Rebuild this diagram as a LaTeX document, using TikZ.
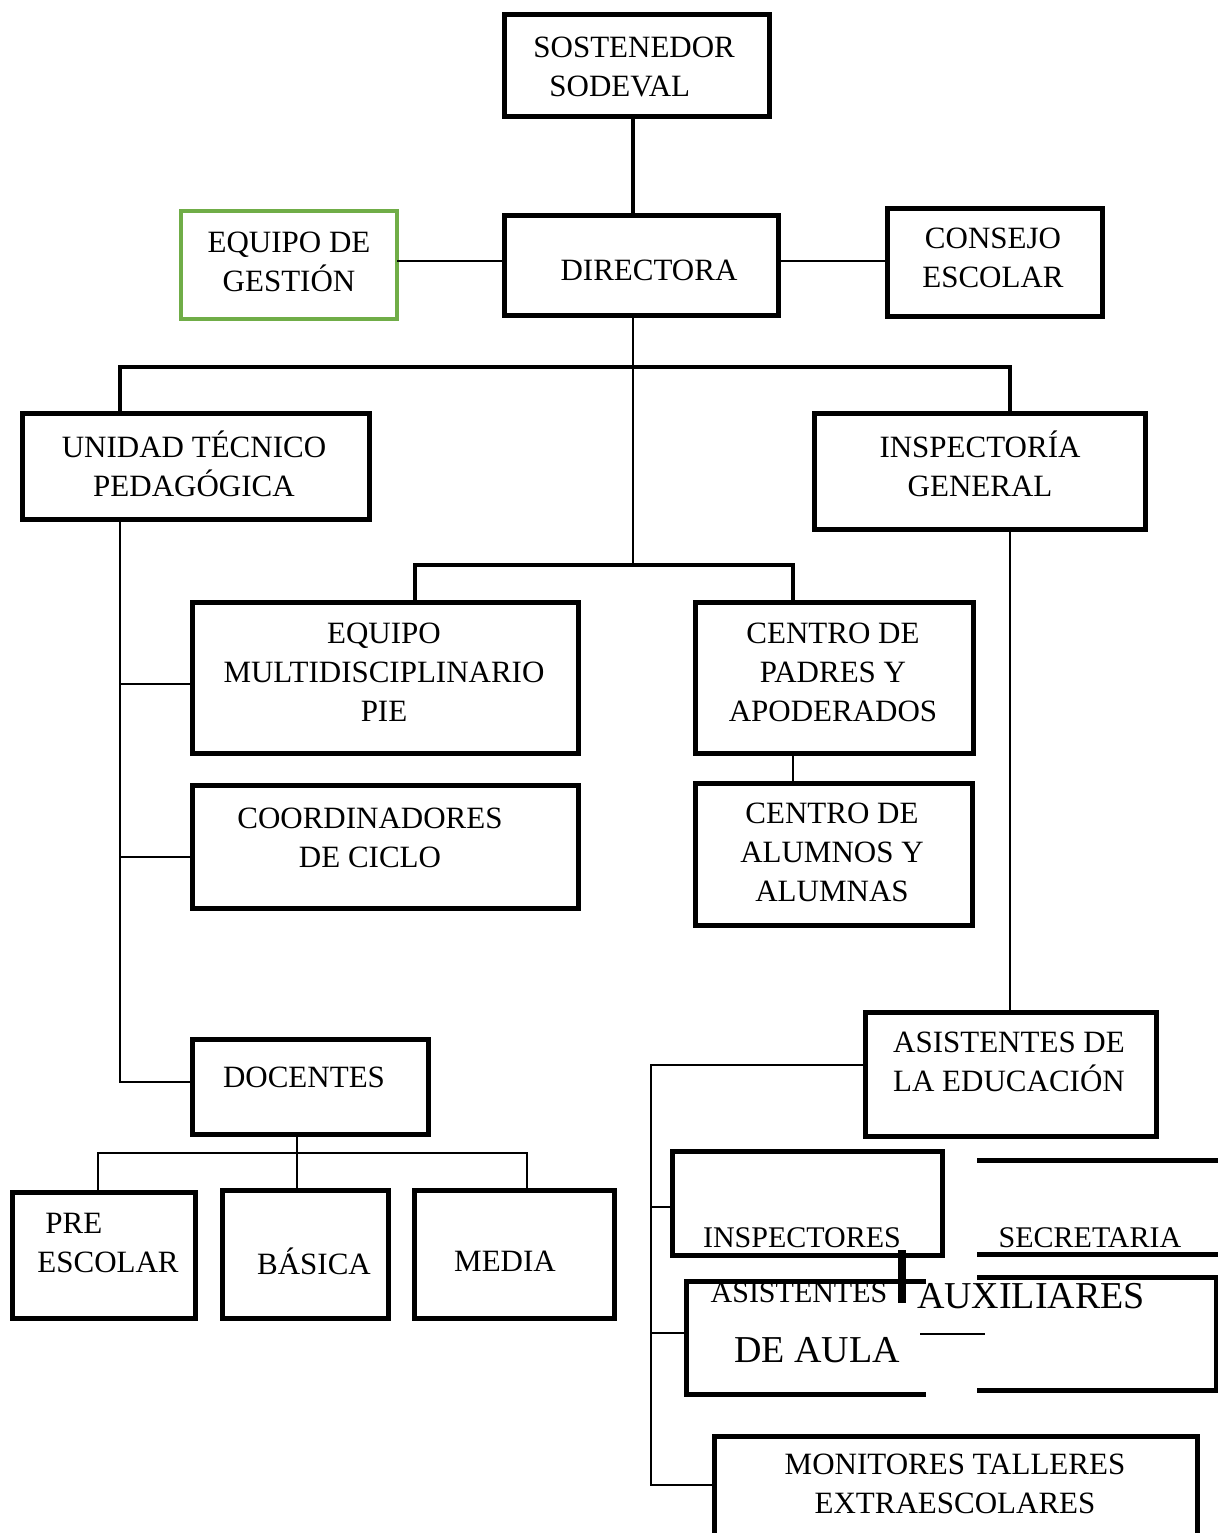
\documentclass[tikz,border=0pt]{standalone}
\usepackage{fontspec}
\setmainfont{Liberation Serif}
\begin{document}
\begin{tikzpicture}[x=0.5pt,y=-0.5pt,
  bx/.style={draw, line width=2.5pt, inner sep=0pt, outer sep=0pt, line join=miter},
  sz/.style 2 args={minimum width=#1*0.5pt, minimum height=#2*0.5pt},
  t/.style={inner sep=0pt, align=center, font=\fontsize{15.5}{19.5}\selectfont},
  tb/.style={inner sep=0pt, align=center, font=\fontsize{19}{23}\selectfont},
  conn/.style={line width=1.3pt},
  thk/.style={line width=2pt},
  bline/.style={line width=2.5pt}]
\useasboundingbox (0,0) rectangle (1218,1533);
% boxes
\node[bx, sz={265}{102}] (sost) at (636.5,65) {};
\node[t, align=left, anchor=west] (sostT) at (533,67) {SOSTENEDOR\\\hspace*{8pt}SODEVAL};
\node[bx, sz={274}{100}] (dir) at (641,265) {};
\node[t] (dirT) at (649,270) {DIRECTORA};
\node[bx, draw={rgb,255:red,112;green,173;blue,71}, line width=1.6pt, sz={216}{108}] (gest) at (289,265) {};
\node[t] (gestT) at (289,262) {EQUIPO DE\\GESTIÓN};
\node[bx, sz={215}{108}] (cons) at (994.5,262) {};
\node[t] (consT) at (993,258) {CONSEJO\\ESCOLAR};
\node[bx, sz={347}{106}] (utp) at (195.5,466) {};
\node[t] (utpT) at (194,464) {UNIDAD TÉCNICO\\PEDAGÓGICA};
\node[bx, sz={331}{116}] (ig) at (979.5,471) {};
\node[t] (igT) at (980,464) {INSPECTORÍA\\GENERAL};
\node[bx, sz={386}{151}] (emp) at (385,677.5) {};
\node[t] (empT) at (384,672) {EQUIPO\\MULTIDISCIPLINARIO\\PIE};
\node[bx, sz={278}{151}] (cpa) at (834,677.5) {};
\node[t] (cpaT) at (833,672) {CENTRO DE\\PADRES Y\\APODERADOS};
\node[bx, sz={277}{142}] (cal) at (833.5,854) {};
\node[t] (calT) at (832,852) {CENTRO DE\\ALUMNOS Y\\ALUMNAS};
\node[bx, sz={386}{123}] (coo) at (385,846.5) {};
\node[t] (cooT) at (370,838) {COORDINADORES\\DE CICLO};
\node[bx, sz={236}{95}] (doc) at (310,1086.5) {};
\node[t] (docT) at (304,1077) {DOCENTES};
\node[bx, sz={183}{126}] (pre) at (103.5,1255) {};
\node[t, align=left, anchor=west] (preT) at (37,1242.5) {\hspace{4pt}PRE\\ESCOLAR};
\node[bx, sz={166}{128}] (bas) at (305,1254) {};
\node[t] (basT) at (314,1261) {BÁSICA};
\node[bx, sz={200}{128}] (med) at (514,1254) {};
\node[t] (medT) at (505,1261) {MEDIA};
\node[bx, sz={291}{124}] (aed) at (1010.5,1074) {};
\node[t] (aedT) at (1009,1062) {ASISTENTES DE\\LA EDUCACIÓN};
\node[bx, sz={270}{104}] (ins) at (807,1203) {};
\node[t, font=\fontsize{15}{18}\selectfont] (insT) at (802,1238) {INSPECTORES};
\node[t, font=\fontsize{15}{18}\selectfont] (secT) at (1090,1238) {SECRETARIA};
\node[bx, sz={483}{124}] (mon) at (955.5,1498) {};
\node[t] (monT) at (955,1484) {MONITORES TALLERES\\EXTRAESCOLARES};
% partial boxes (secretaria / auxiliares)
\draw[bline] (977,1160) -- (1218,1160);
\draw[bline] (977,1254) -- (1218,1254);
\draw[bline] (926,1281) -- (686,1281) -- (686,1394) -- (926,1394);
\draw[bline] (977,1277) -- (1216,1277) -- (1216,1390) -- (977,1390);
\coordinate (aulaW) at (686,1333);
\draw[line width=4pt] (902,1250) -- (902,1303);
\draw[line width=1.2pt] (920,1334) -- (985,1334);
\node[t, font=\fontsize{15}{18}\selectfont] (asT) at (799,1293) {ASISTENTES};
\node[tb] (auxT) at (1031,1296) {AUXILIARES};
\node[tb] (daT) at (817,1350) {DE AULA};
% junctions
\coordinate (jA) at (633,367);
\coordinate (jB) at (633,565);
\coordinate (cL) at (120,367);
\coordinate (cR) at (1010,367);
\coordinate (bL) at (415,565);
\coordinate (bR) at (793,565);
\coordinate (tU) at (120,1082);
\coordinate (t1) at (120,684);
\coordinate (t2) at (120,857);
\coordinate (aL) at (651,1065);
\coordinate (aB) at (651,1485);
\coordinate (a1) at (651,1207);
\coordinate (a2) at (651,1333);
\coordinate (dJ) at (297,1153);
\coordinate (dL) at (98,1153);
\coordinate (dR) at (527,1153);
% connectors
\draw[thk] (sost.south -| jA) -- (dir.north -| jA);
\draw[conn] (gest.east |- 0,261) -- (dir.west |- 0,261);
\draw[conn] (dir.east |- 0,261) -- (cons.west |- 0,261);
\draw[conn] (dir.south -| jA) -- (jB);
\draw[thk] (utp.north -| cL) -- (cL) -- (cR) -- (ig.north -| cR);
\draw[thk] (emp.north -| bL) -- (bL) -- (bR) -- (cpa.north -| bR);
\draw[conn] (cpa.south -| bR) -- (cal.north -| bR);
\draw[conn] (utp.south -| tU) -- (tU) -- (tU -| doc.west);
\draw[conn] (t1) -- (t1 -| emp.west);
\draw[conn] (t2) -- (t2 -| coo.west);
\draw[conn] (ig.south -| cR) -- (aed.north -| cR);
\draw[conn] (aL -| aed.west) -- (aL) -- (aB) -- (aB -| mon.west);
\draw[conn] (a1) -- (a1 -| ins.west);
\draw[conn] (a2) -- (aulaW);
\draw[conn] (doc.south -| dJ) -- (dJ) -- (bas.north -| dJ);
\draw[conn] (pre.north -| dL) -- (dL) -- (dR) -- (med.north -| dR);
\end{tikzpicture}
\end{document}
